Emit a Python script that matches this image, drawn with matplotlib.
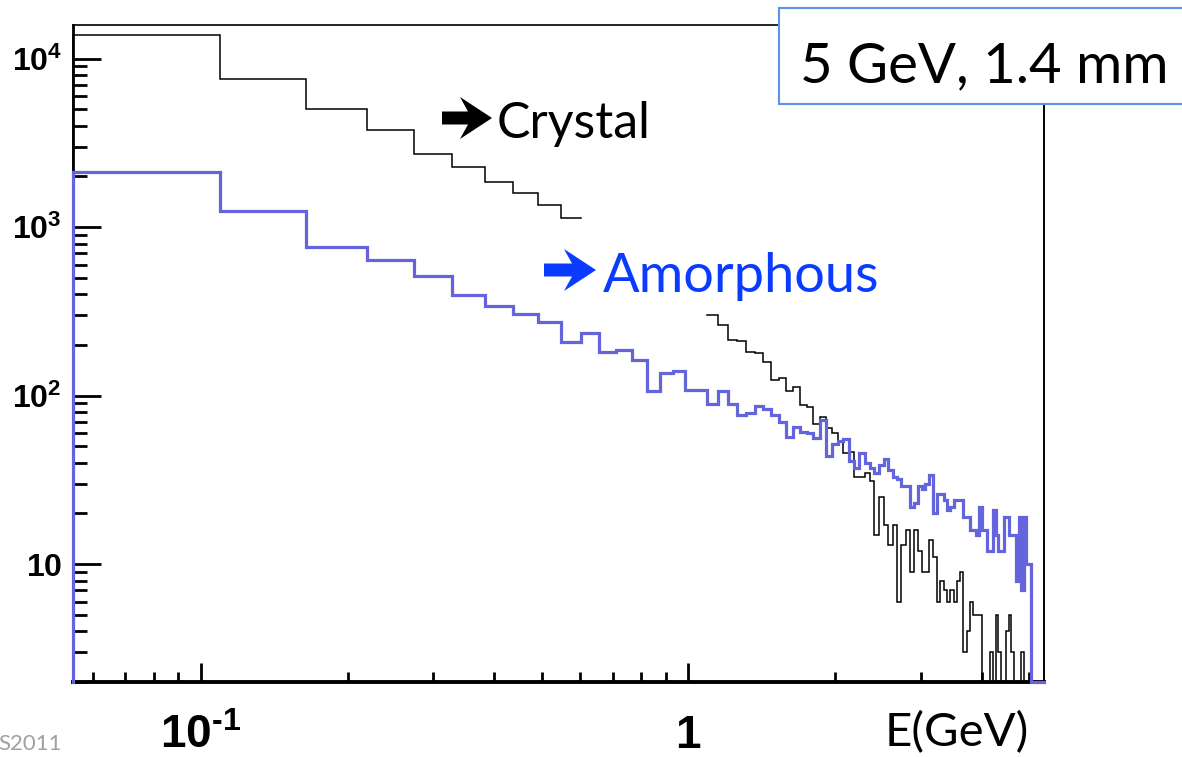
import numpy as np
import matplotlib
matplotlib.use("Agg")
import matplotlib.pyplot as plt
from matplotlib.ticker import LogLocator, NullFormatter
from matplotlib.patches import Rectangle, FancyArrow

plt.rcParams['mathtext.fontset'] = 'custom'
plt.rcParams['mathtext.rm'] = 'Liberation Sans:bold'
plt.rcParams['mathtext.bf'] = 'Liberation Sans:bold'
plt.rcParams['mathtext.it'] = 'Liberation Sans:bold'

# ---------------- data ----------------
bin_width = 0.0547          # GeV, bins start at one bin width
n_bins = 97

crystal = [13830, 7545, 5028, 3775, 2707, 2286, 1847, 1603, 1355, 1139,
           None, None, None, None, None, None, None, None, None,
           301, 263, 214, 210, 182, 179, 159, 124, 127, 106,
           112, 88, 86, 68, 74.5, 64, 60, 53, 45.5, 46.5,
           33, 33, 35, 31, 15, 25, 17, 13, 17, 6,
           13, 16, 9, 16, 12, 9, 9, 14, 11, 6,
           8, 7, 6, 7, 6, 8, 9, 3, 4, 6,
           5, 5, 5, 0, 0, 0, 3, 0, 5, 3,
           0, 0, 4, 5, 3, 0, 0, 0, 3, 0,
           0, 0, 0, 0, 0, 0, 0, 0]

amorphous = [2136, 1248, 766, 636, 515, 396, 340, 307, 275, 209,
             237, 182, 187, 163, 107, 136, 141, 108, 108, 89,
             107, 89, 77, 79, 87, 83, 77, 70, 57, 65,
             61, 60, 56, 72, 44, 52, 54, 55, 41, 37,
             46, 40, 37, 35, 39, 42, 36, 33, 32, 29,
             29, 22, 23, 29, 28, 30, 34, 20, 26, 26,
             24, 21, 22, 24, 24, 24, 19, 19, 16, 16,
             15, 22, 16, 16, 12, 12, 21, 15, 12, 12,
             19, 19, 15, 15, 15, 8, 19, 7, 19, 10,
             10, 0, 0, 0, 0, 0, 0]

x_major = [0.1, 1]
x_major_labels = [r'$\mathbf{10^{\text{-1}}}$', r'$\mathbf{1}$']
y_major = [10, 100, 1000, 10000]
y_major_labels = [r'$\mathbf{10}$', r'$\mathbf{10^{2}}$', r'$\mathbf{10^{3}}$', r'$\mathbf{10^{4}}$']

y_min, y_max = 2.0, 15850.0

# ---------------- figure ----------------
W, H = 1182, 757
fig = plt.figure(figsize=(W / 100, H / 100), dpi=100)
fig.patch.set_facecolor('white')


def fx(px):
    return px / W


def fy(py):
    return 1 - py / H


ax = fig.add_axes([fx(73), fy(682), fx(1044) - fx(73), fy(25) - fy(682)])
ax.set_xscale('log')
ax.set_yscale('log')

edges = bin_width * np.arange(1, n_bins + 2)


def step_xy(vals):
    v = np.array([np.nan if a is None else a for a in vals], dtype=float)
    v = np.where(v <= 0, y_min, v)
    xs = [edges[0]]
    ys = [y_min]
    for i, val in enumerate(v):
        xs += [edges[i], edges[i + 1]]
        ys += [val, val]
    xs.append(edges[-1])
    ys.append(y_min)
    return np.array(xs), np.array(ys)


xc, yc = step_xy(crystal)
ax.plot(xc, yc, color='black', lw=1.1, zorder=3, clip_on=False,
        solid_joinstyle='miter')
xa, ya = step_xy(amorphous)
ax.plot(xa, ya, color='#6464dc', lw=2.3, zorder=4, clip_on=False,
        solid_joinstyle='miter')

ax.set_xlim(edges[0], edges[-1])
ax.set_ylim(y_min, y_max)

ax.set_xticks(x_major, x_major_labels)
ax.set_yticks(y_major, y_major_labels)
ax.xaxis.set_minor_locator(LogLocator(base=10, subs=np.arange(2, 10)))
ax.yaxis.set_minor_locator(LogLocator(base=10, subs=np.arange(2, 10)))
ax.xaxis.set_minor_formatter(NullFormatter())
ax.yaxis.set_minor_formatter(NullFormatter())

ax.tick_params(axis='x', which='major', direction='in', length=14, width=2,
               labelsize=33, pad=22, top=False)
ax.tick_params(axis='x', which='minor', direction='in', length=7, width=2, top=False)
ax.tick_params(axis='y', which='major', direction='in', length=20, width=2,
               labelsize=23, pad=8, right=False)
ax.tick_params(axis='y', which='minor', direction='in', length=10, width=2, right=False)

ax.spines['left'].set_linewidth(2.0)
ax.spines['bottom'].set_linewidth(2.8)
ax.spines['top'].set_linewidth(1.2)
ax.spines['right'].set_linewidth(1.4)
for s in ax.spines.values():
    s.set_zorder(2.5)

# ---------------- annotations ----------------
ax.add_patch(Rectangle((fx(779), fy(104)), fx(1200) - fx(779), fy(8) - fy(104),
                       transform=fig.transFigure, facecolor='white',
                       edgecolor='#5b8ff0', lw=1.5, clip_on=False, zorder=10))
fig.text(fx(800), fy(82), '5 GeV, 1.4 mm', fontsize=40.5, family=['Lato', 'DejaVu Sans'],
         color='black', va='baseline', ha='left', zorder=11)


def big_arrow(x0, x1, yc, color):
    # arrow drawn in inch units (100 px per inch)
    a = FancyArrow(x0 / 100, (H - yc) / 100, (x1 - x0) / 100, 0,
                   width=0.13, head_width=0.42, head_length=0.32,
                   length_includes_head=True, overhang=0.25,
                   transform=fig.dpi_scale_trans, color=color, lw=0,
                   clip_on=False, zorder=11)
    fig.patches.append(a)


big_arrow(442, 492, 118, 'black')
fig.text(fx(497), fy(138), 'Crystal', fontsize=36, family=['Lato', 'DejaVu Sans'],
         color='black', va='baseline', ha='left', zorder=11)

big_arrow(544, 596, 270, '#0a3cff')
fig.text(fx(603), fy(292), 'Amorphous', fontsize=39, family=['Lato', 'DejaVu Sans'],
         color='#0a3cff', va='baseline', ha='left', zorder=11)

fig.text(fx(885), fy(746), 'E(GeV)', fontsize=34, family=['Lato', 'DejaVu Sans'],
         color='black', va='baseline', ha='left')

fig.text(fx(62), fy(734), 'S2011', fontsize=16, family=['Lato', 'DejaVu Sans'],
         color='#a0a0a0', va='top', ha='right')

fig.savefig('out.png', dpi=100, facecolor='white')
